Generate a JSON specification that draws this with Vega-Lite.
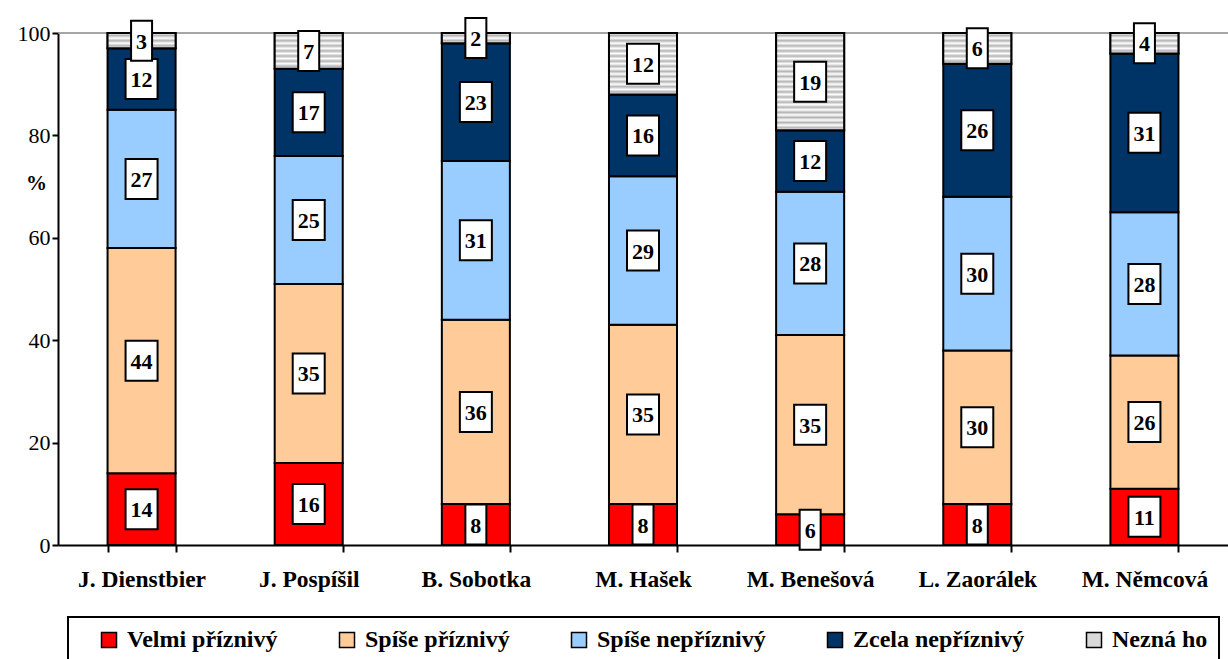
{
  "$schema": "https://vega.github.io/schema/vega-lite/v6.json",
  "autosize": {"type": "none"},
  "width": 1170,
  "height": 512,
  "padding": {"left": 58, "top": 33, "right": 0, "bottom": 114},
  "background": "white",
  "config": {
    "view": {"stroke": null},
    "font": "'Liberation Serif', 'Times New Roman', Times, serif"
  },
  "data": {
    "values": [
      {"name": "J. Dienstbier", "cat": "Velmi příznivý", "value": 14},
      {"name": "J. Dienstbier", "cat": "Spíše příznivý", "value": 44},
      {"name": "J. Dienstbier", "cat": "Spíše nepříznivý", "value": 27},
      {"name": "J. Dienstbier", "cat": "Zcela nepříznivý", "value": 12},
      {"name": "J. Dienstbier", "cat": "Nezná ho", "value": 3},
      {"name": "J. Pospíšil", "cat": "Velmi příznivý", "value": 16},
      {"name": "J. Pospíšil", "cat": "Spíše příznivý", "value": 35},
      {"name": "J. Pospíšil", "cat": "Spíše nepříznivý", "value": 25},
      {"name": "J. Pospíšil", "cat": "Zcela nepříznivý", "value": 17},
      {"name": "J. Pospíšil", "cat": "Nezná ho", "value": 7},
      {"name": "B. Sobotka", "cat": "Velmi příznivý", "value": 8},
      {"name": "B. Sobotka", "cat": "Spíše příznivý", "value": 36},
      {"name": "B. Sobotka", "cat": "Spíše nepříznivý", "value": 31},
      {"name": "B. Sobotka", "cat": "Zcela nepříznivý", "value": 23},
      {"name": "B. Sobotka", "cat": "Nezná ho", "value": 2},
      {"name": "M. Hašek", "cat": "Velmi příznivý", "value": 8},
      {"name": "M. Hašek", "cat": "Spíše příznivý", "value": 35},
      {"name": "M. Hašek", "cat": "Spíše nepříznivý", "value": 29},
      {"name": "M. Hašek", "cat": "Zcela nepříznivý", "value": 16},
      {"name": "M. Hašek", "cat": "Nezná ho", "value": 12},
      {"name": "M. Benešová", "cat": "Velmi příznivý", "value": 6},
      {"name": "M. Benešová", "cat": "Spíše příznivý", "value": 35},
      {"name": "M. Benešová", "cat": "Spíše nepříznivý", "value": 28},
      {"name": "M. Benešová", "cat": "Zcela nepříznivý", "value": 12},
      {"name": "M. Benešová", "cat": "Nezná ho", "value": 19},
      {"name": "L. Zaorálek", "cat": "Velmi příznivý", "value": 8},
      {"name": "L. Zaorálek", "cat": "Spíše příznivý", "value": 30},
      {"name": "L. Zaorálek", "cat": "Spíše nepříznivý", "value": 30},
      {"name": "L. Zaorálek", "cat": "Zcela nepříznivý", "value": 26},
      {"name": "L. Zaorálek", "cat": "Nezná ho", "value": 6},
      {"name": "M. Němcová", "cat": "Velmi příznivý", "value": 11},
      {"name": "M. Němcová", "cat": "Spíše příznivý", "value": 26},
      {"name": "M. Němcová", "cat": "Spíše nepříznivý", "value": 28},
      {"name": "M. Němcová", "cat": "Zcela nepříznivý", "value": 31},
      {"name": "M. Němcová", "cat": "Nezná ho", "value": 4}
    ]
  },
  "transform": [
    {"calculate": "indexof(['Velmi příznivý','Spíše příznivý','Spíše nepříznivý','Zcela nepříznivý','Nezná ho'], datum.cat)", "as": "ord"},
    {"stack": "value", "groupby": ["name"], "sort": [{"field": "ord", "order": "ascending"}], "as": ["y0", "y1"]},
    {"calculate": "(datum.y0 + datum.y1) / 2", "as": "mid"}
  ],
  "encoding": {
    "x": {
      "field": "name",
      "type": "nominal",
      "sort": ["J. Dienstbier", "J. Pospíšil", "B. Sobotka", "M. Hašek", "M. Benešová", "L. Zaorálek", "M. Němcová"],
      "scale": {"paddingInner": 0.593, "paddingOuter": 0.2965},
      "axis": {
        "title": null,
        "labelAngle": 0,
        "labelFont": "'Liberation Serif', 'Times New Roman', Times, serif",
        "labelFontSize": 23.5,
        "labelFontWeight": "bold",
        "labelColor": "black",
        "labelPadding": 15,
        "domainColor": "black",
        "domainWidth": 2,
        "tickColor": "black",
        "tickWidth": 2,
        "tickSize": 7,
        "tickBand": "extent",
        "grid": false
      }
    }
  },
  "layer": [
    {
      "data": {"values": [{"v": 100}]},
      "mark": {"type": "rule", "color": "#888888", "strokeWidth": 1.5},
      "encoding": {"y": {"field": "v", "type": "quantitative"}, "x": null}
    },
    {
      "mark": {"type": "bar", "stroke": "black", "strokeWidth": 2},
      "encoding": {
        "y": {
          "field": "y0",
          "type": "quantitative",
          "scale": {"domain": [0, 100], "nice": false},
          "axis": {
            "values": [0, 20, 40, 60, 80, 100],
            "title": "%",
            "titleAngle": 0,
            "titleX": -22,
            "titleY": 150,
            "titleAlign": "center",
            "titleBaseline": "middle",
            "titleFont": "'Liberation Serif', 'Times New Roman', Times, serif",
            "titleFontSize": 21,
            "titleFontWeight": "bold",
            "titleColor": "black",
            "labelFont": "'Liberation Serif', 'Times New Roman', Times, serif",
            "labelFontSize": 22,
            "labelColor": "black",
            "labelPadding": 2,
            "domainColor": "black",
            "domainWidth": 2,
            "tickColor": "black",
            "tickWidth": 2,
            "tickSize": 6,
            "grid": false
          }
        },
        "y2": {"field": "y1"},
        "color": {
          "field": "cat",
          "type": "nominal",
          "scale": {
            "domain": ["Velmi příznivý", "Spíše příznivý", "Spíše nepříznivý", "Zcela nepříznivý", "Nezná ho"],
            "range": ["#FF0000", "#FFCC99", "#99CCFF", "#003366", "#D9D9D9"]
          },
          "legend": {
            "orient": "none",
            "legendX": 10,
            "legendY": 584,
            "direction": "horizontal",
            "title": " ",
            "titleOrient": "left",
            "titlePadding": 18,
            "titleFontSize": 20,
            "symbolType": "square",
            "symbolSize": 225,
            "symbolStrokeColor": "black",
            "symbolStrokeWidth": 1.5,
            "symbolOpacity": 1,
            "labelFont": "'Liberation Serif', 'Times New Roman', Times, serif",
            "labelFontSize": 24,
            "labelFontWeight": "bold",
            "labelColor": "black",
            "labelOffset": 6,
            "labelLimit": 400,
            "columnPadding": 57,
            "padding": 11,
            "strokeColor": "black",
            "fillColor": "white",
            "encode": {"legend": {"update": {"strokeWidth": {"value": 2}}}}
          }
        }
      }
    },
    {
      "transform": [{"filter": "datum.cat === 'Nezná ho' && datum.name === 'J. Dienstbier'"}],
      "mark": {"type": "bar", "stroke": "black", "strokeWidth": 2,
        "fill": {"gradient": "linear", "x1": 0, "y1": 0, "x2": 0, "y2": 1, "stops": [
          {"offset": 0, "color": "#FFFFFF"}, {"offset": 0.1667, "color": "#B4B4B4"}, {"offset": 0.3333, "color": "#FFFFFF"},
          {"offset": 0.5, "color": "#B4B4B4"}, {"offset": 0.6667, "color": "#FFFFFF"}, {"offset": 0.8333, "color": "#B4B4B4"},
          {"offset": 1, "color": "#FFFFFF"}]}},
      "encoding": {"y": {"field": "y0", "type": "quantitative"}, "y2": {"field": "y1"}}
    },
    {
      "transform": [{"filter": "datum.cat === 'Nezná ho' && datum.name === 'J. Pospíšil'"}],
      "mark": {"type": "bar", "stroke": "black", "strokeWidth": 2,
        "fill": {"gradient": "linear", "x1": 0, "y1": 0, "x2": 0, "y2": 1, "stops": [
          {"offset": 0, "color": "#FFFFFF"}, {"offset": 0.0714, "color": "#B4B4B4"}, {"offset": 0.1429, "color": "#FFFFFF"},
          {"offset": 0.2143, "color": "#B4B4B4"}, {"offset": 0.2857, "color": "#FFFFFF"}, {"offset": 0.3571, "color": "#B4B4B4"},
          {"offset": 0.4286, "color": "#FFFFFF"}, {"offset": 0.5, "color": "#B4B4B4"}, {"offset": 0.5714, "color": "#FFFFFF"},
          {"offset": 0.6429, "color": "#B4B4B4"}, {"offset": 0.7143, "color": "#FFFFFF"}, {"offset": 0.7857, "color": "#B4B4B4"},
          {"offset": 0.8571, "color": "#FFFFFF"}, {"offset": 0.9286, "color": "#B4B4B4"}, {"offset": 1, "color": "#FFFFFF"}]}},
      "encoding": {"y": {"field": "y0", "type": "quantitative"}, "y2": {"field": "y1"}}
    },
    {
      "transform": [{"filter": "datum.cat === 'Nezná ho' && datum.name === 'B. Sobotka'"}],
      "mark": {"type": "bar", "stroke": "black", "strokeWidth": 2,
        "fill": {"gradient": "linear", "x1": 0, "y1": 0, "x2": 0, "y2": 1, "stops": [
          {"offset": 0, "color": "#FFFFFF"}, {"offset": 0.25, "color": "#B4B4B4"}, {"offset": 0.5, "color": "#FFFFFF"},
          {"offset": 0.75, "color": "#B4B4B4"}, {"offset": 1, "color": "#FFFFFF"}]}},
      "encoding": {"y": {"field": "y0", "type": "quantitative"}, "y2": {"field": "y1"}}
    },
    {
      "transform": [{"filter": "datum.cat === 'Nezná ho' && datum.name === 'M. Hašek'"}],
      "mark": {"type": "bar", "stroke": "black", "strokeWidth": 2,
        "fill": {"gradient": "linear", "x1": 0, "y1": 0, "x2": 0, "y2": 1, "stops": [
          {"offset": 0, "color": "#FFFFFF"}, {"offset": 0.0417, "color": "#B4B4B4"}, {"offset": 0.0833, "color": "#FFFFFF"},
          {"offset": 0.125, "color": "#B4B4B4"}, {"offset": 0.1667, "color": "#FFFFFF"}, {"offset": 0.2083, "color": "#B4B4B4"},
          {"offset": 0.25, "color": "#FFFFFF"}, {"offset": 0.2917, "color": "#B4B4B4"}, {"offset": 0.3333, "color": "#FFFFFF"},
          {"offset": 0.375, "color": "#B4B4B4"}, {"offset": 0.4167, "color": "#FFFFFF"}, {"offset": 0.4583, "color": "#B4B4B4"},
          {"offset": 0.5, "color": "#FFFFFF"}, {"offset": 0.5417, "color": "#B4B4B4"}, {"offset": 0.5833, "color": "#FFFFFF"},
          {"offset": 0.625, "color": "#B4B4B4"}, {"offset": 0.6667, "color": "#FFFFFF"}, {"offset": 0.7083, "color": "#B4B4B4"},
          {"offset": 0.75, "color": "#FFFFFF"}, {"offset": 0.7917, "color": "#B4B4B4"}, {"offset": 0.8333, "color": "#FFFFFF"},
          {"offset": 0.875, "color": "#B4B4B4"}, {"offset": 0.9167, "color": "#FFFFFF"}, {"offset": 0.9583, "color": "#B4B4B4"},
          {"offset": 1, "color": "#FFFFFF"}]}},
      "encoding": {"y": {"field": "y0", "type": "quantitative"}, "y2": {"field": "y1"}}
    },
    {
      "transform": [{"filter": "datum.cat === 'Nezná ho' && datum.name === 'M. Benešová'"}],
      "mark": {"type": "bar", "stroke": "black", "strokeWidth": 2,
        "fill": {"gradient": "linear", "x1": 0, "y1": 0, "x2": 0, "y2": 1, "stops": [
          {"offset": 0, "color": "#FFFFFF"}, {"offset": 0.0263, "color": "#B4B4B4"}, {"offset": 0.0526, "color": "#FFFFFF"},
          {"offset": 0.0789, "color": "#B4B4B4"}, {"offset": 0.1053, "color": "#FFFFFF"}, {"offset": 0.1316, "color": "#B4B4B4"},
          {"offset": 0.1579, "color": "#FFFFFF"}, {"offset": 0.1842, "color": "#B4B4B4"}, {"offset": 0.2105, "color": "#FFFFFF"},
          {"offset": 0.2368, "color": "#B4B4B4"}, {"offset": 0.2632, "color": "#FFFFFF"}, {"offset": 0.2895, "color": "#B4B4B4"},
          {"offset": 0.3158, "color": "#FFFFFF"}, {"offset": 0.3421, "color": "#B4B4B4"}, {"offset": 0.3684, "color": "#FFFFFF"},
          {"offset": 0.3947, "color": "#B4B4B4"}, {"offset": 0.4211, "color": "#FFFFFF"}, {"offset": 0.4474, "color": "#B4B4B4"},
          {"offset": 0.4737, "color": "#FFFFFF"}, {"offset": 0.5, "color": "#B4B4B4"}, {"offset": 0.5263, "color": "#FFFFFF"},
          {"offset": 0.5526, "color": "#B4B4B4"}, {"offset": 0.5789, "color": "#FFFFFF"}, {"offset": 0.6053, "color": "#B4B4B4"},
          {"offset": 0.6316, "color": "#FFFFFF"}, {"offset": 0.6579, "color": "#B4B4B4"}, {"offset": 0.6842, "color": "#FFFFFF"},
          {"offset": 0.7105, "color": "#B4B4B4"}, {"offset": 0.7368, "color": "#FFFFFF"}, {"offset": 0.7632, "color": "#B4B4B4"},
          {"offset": 0.7895, "color": "#FFFFFF"}, {"offset": 0.8158, "color": "#B4B4B4"}, {"offset": 0.8421, "color": "#FFFFFF"},
          {"offset": 0.8684, "color": "#B4B4B4"}, {"offset": 0.8947, "color": "#FFFFFF"}, {"offset": 0.9211, "color": "#B4B4B4"},
          {"offset": 0.9474, "color": "#FFFFFF"}, {"offset": 0.9737, "color": "#B4B4B4"}, {"offset": 1, "color": "#FFFFFF"}]}},
      "encoding": {"y": {"field": "y0", "type": "quantitative"}, "y2": {"field": "y1"}}
    },
    {
      "transform": [{"filter": "datum.cat === 'Nezná ho' && datum.name === 'L. Zaorálek'"}],
      "mark": {"type": "bar", "stroke": "black", "strokeWidth": 2,
        "fill": {"gradient": "linear", "x1": 0, "y1": 0, "x2": 0, "y2": 1, "stops": [
          {"offset": 0, "color": "#FFFFFF"}, {"offset": 0.0833, "color": "#B4B4B4"}, {"offset": 0.1667, "color": "#FFFFFF"},
          {"offset": 0.25, "color": "#B4B4B4"}, {"offset": 0.3333, "color": "#FFFFFF"}, {"offset": 0.4167, "color": "#B4B4B4"},
          {"offset": 0.5, "color": "#FFFFFF"}, {"offset": 0.5833, "color": "#B4B4B4"}, {"offset": 0.6667, "color": "#FFFFFF"},
          {"offset": 0.75, "color": "#B4B4B4"}, {"offset": 0.8333, "color": "#FFFFFF"}, {"offset": 0.9167, "color": "#B4B4B4"},
          {"offset": 1, "color": "#FFFFFF"}]}},
      "encoding": {"y": {"field": "y0", "type": "quantitative"}, "y2": {"field": "y1"}}
    },
    {
      "transform": [{"filter": "datum.cat === 'Nezná ho' && datum.name === 'M. Němcová'"}],
      "mark": {"type": "bar", "stroke": "black", "strokeWidth": 2,
        "fill": {"gradient": "linear", "x1": 0, "y1": 0, "x2": 0, "y2": 1, "stops": [
          {"offset": 0, "color": "#FFFFFF"}, {"offset": 0.125, "color": "#B4B4B4"}, {"offset": 0.25, "color": "#FFFFFF"},
          {"offset": 0.375, "color": "#B4B4B4"}, {"offset": 0.5, "color": "#FFFFFF"}, {"offset": 0.625, "color": "#B4B4B4"},
          {"offset": 0.75, "color": "#FFFFFF"}, {"offset": 0.875, "color": "#B4B4B4"}, {"offset": 1, "color": "#FFFFFF"}]}},
      "encoding": {"y": {"field": "y0", "type": "quantitative"}, "y2": {"field": "y1"}}
    },
    {
      "transform": [{"filter": "datum.value >= 10"}],
      "mark": {"type": "point", "shape": "M-0.8,-1H0.8V1H-0.8Z", "size": 1600, "filled": true, "fill": "white", "stroke": "black", "strokeWidth": 2, "opacity": 1},
      "encoding": {"y": {"field": "mid", "type": "quantitative"}}
    },
    {
      "transform": [{"filter": "datum.value < 10"}],
      "mark": {"type": "point", "shape": "M-0.525,-1H0.525V1H-0.525Z", "size": 1600, "filled": true, "fill": "white", "stroke": "black", "strokeWidth": 2, "opacity": 1},
      "encoding": {"y": {"field": "mid", "type": "quantitative"}}
    },
    {
      "mark": {"type": "text", "font": "'Liberation Serif', 'Times New Roman', Times, serif", "fontSize": 22, "fontWeight": "bold", "color": "black", "baseline": "middle", "align": "center", "dy": 1},
      "encoding": {
        "y": {"field": "mid", "type": "quantitative"},
        "text": {"field": "value", "type": "quantitative"}
      }
    }
  ]
}
